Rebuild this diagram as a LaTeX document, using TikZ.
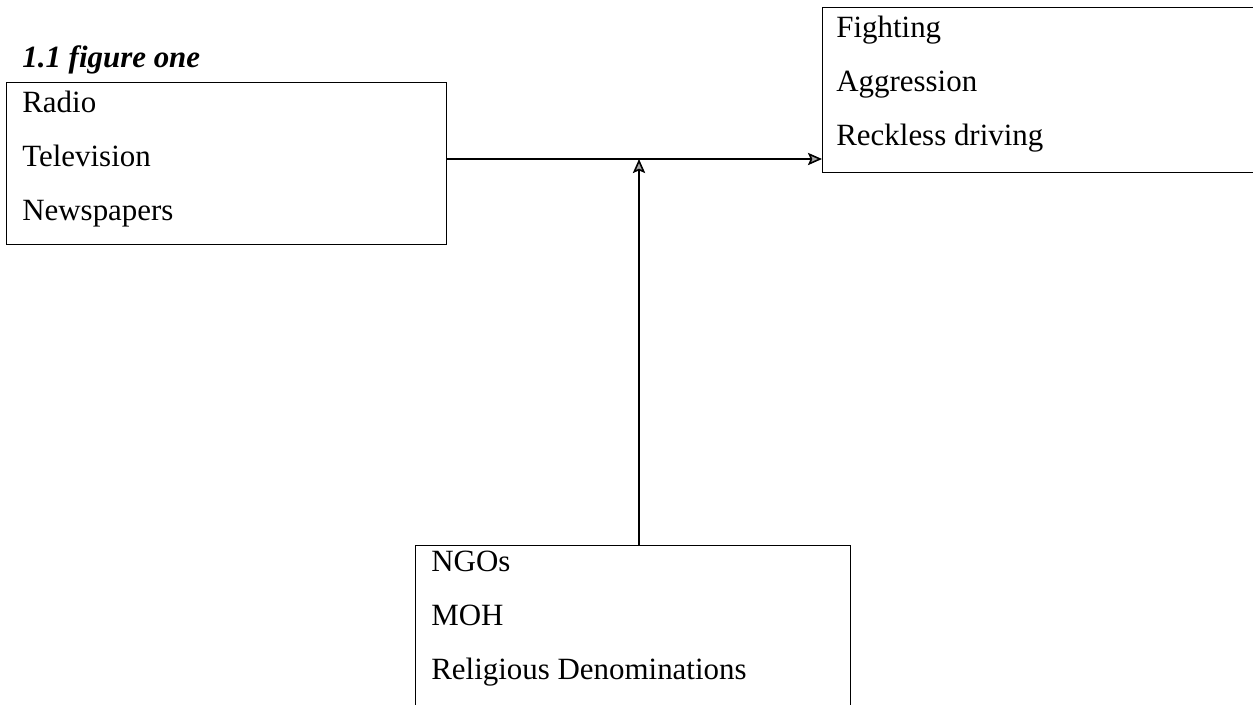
\documentclass[tikz,border=0pt]{standalone}
\usepackage{fontspec}
\setmainfont{Liberation Serif}
\usetikzlibrary{calc}
\usetikzlibrary{arrows.meta}

\begin{document}
\begin{tikzpicture} [x=.02cm, y=-.02cm,
  box/.style={draw, line width=.8pt, rectangle, anchor=north west, inner sep=0},
  items/.style={anchor=north west, align=left, inner xsep=16*.02cm, inner ysep=5pt,
    font=\fontsize{17.6}{30.6}\selectfont},
  arr/.style={black, line width=.9pt, -{Stealth[length=8pt, width=7pt, inset=1.5pt, fill=gray!70]}}]
\useasboundingbox (0,0) rectangle (1253,704);
\node[anchor=base west, inner sep=0, font=\fontsize{17.6}{20}\selectfont\bfseries\itshape] (title) at (22,67) {1.1 figure one};
% boxes
\node[box, minimum width=440*.02cm, minimum height=162*.02cm] (media) at (6,82) {};
\node[box, minimum width=434*.02cm, minimum height=165*.02cm] (effects) at (822,7) {};
\node[box, minimum width=435*.02cm, minimum height=161*.02cm] (orgs) at (415,545) {};
\node[items] (media list) at (media.north west) {Radio\\Television\\Newspapers};
\node[items, inner xsep=14*.02cm] (effects list) at (effects.north west) {Fighting\\Aggression\\Reckless driving};
\node[items, inner ysep=3.5pt] (orgs list) at (orgs.north west) {NGOs\\MOH\\Religious Denominations};
% connectors
\coordinate (join) at (639,159);
\draw[arr] (media.east |- join) -- (effects.west |- join);
\draw[arr] (orgs.north -| join) -- (join);
\end{tikzpicture}
\end{document}
